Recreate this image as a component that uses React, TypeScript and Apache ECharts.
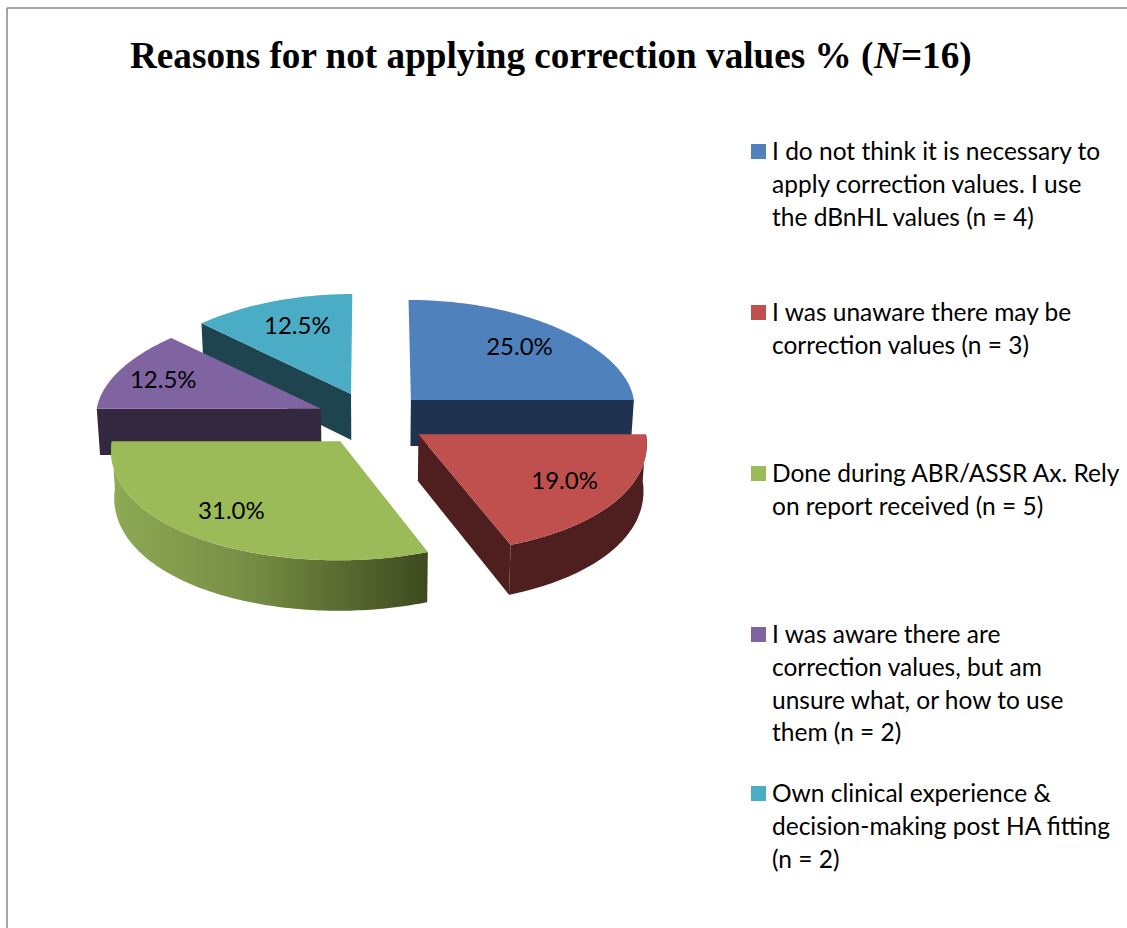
import React, { useEffect, useRef } from "react";
import * as echarts from "echarts";

const titleLead = "Reasons for not applying correction values % (";
const titleItalic = "N";
const titleTail = "=16)";
const categories = [
  "I do not think it is necessary to\napply correction values. I use\nthe dBnHL values (n = 4)",
  "I was unaware there may be\ncorrection values (n = 3)",
  "Done during ABR/ASSR Ax. Rely\non report received (n = 5)",
  "I was aware there are\ncorrection values, but am\nunsure what, or how to use\nthem (n = 2)",
  "Own clinical experience &\ndecision-making post HA fitting\n(n = 2)",
];
const percentages = [25.0, 19.0, 31.0, 12.5, 12.5];
const legendTops = [151, 312, 473, 634, 793];

const topColors = ["#4F81BD", "#C0504D", "#9BBB59", "#8064A2", "#4BACC6"];
const wallColors = ["#1F3350", "#4E1F1E", "#46551F", "#33283F", "#1E4450"];
const paintOrder = [4, 0, 3, 1, 2];
const labelReach = [0.72, 0.75, 0.806, 0.78, 0.67];

const greenRim = {
  type: "linear", x: 0, y: 0, x2: 1, y2: 0,
  colorStops: [
    { offset: 0, color: "#8EAA54" },
    { offset: 0.45, color: "#768C44" },
    { offset: 1, color: "#3D4A1E" },
  ],
};

const FONT = "Lato, Carlito, Calibri, sans-serif";
const CX = 372, CY = 419, EX = 55, EY = 27;
const RX = 223, RY_BACK = 100, RY_FRONT = 119, DEPTH = 46, P = 0.0006, Y0 = 400, SHRINK = 0.988;
const rad = (d: number) => (d * Math.PI) / 180;

const persp = (x: number, y: number) => [CX + (x - CX) * (1 + P * (y - Y0)), y];
const rimOffset = (deg: number, k = 1, kx = k) => {
  const c = Math.cos(rad(deg));
  return [RX * Math.sin(rad(deg)) * kx, -c * (c > 0 ? RY_BACK : RY_FRONT) * k];
};
const drop = (y: number) => DEPTH * (1 + P * (y - Y0));

function renderSlice(params: any, api: any) {
  const i = params.dataIndex;
  const v = api.value(0);
  const total = percentages.reduce((a, b) => a + b, 0);
  const before = percentages.slice(0, i).reduce((a, b) => a + b, 0);
  const a0 = (before / total) * 360;
  const a1 = a0 + (v / total) * 360;
  const mid = (a0 + a1) / 2;
  const ax = CX + EX * Math.sin(rad(mid));
  const ay = CY - EY * Math.cos(rad(mid));

  const top = (deg: number) => {
    const o = rimOffset(deg);
    return [ax + o[0], ay + o[1]];
  };
  const up = (p: number[]) => persp(p[0], p[1]);
  const down = (p: number[]) => {
    const q = persp(p[0], p[1]);
    return [CX + (q[0] - CX) * SHRINK, q[1] + drop(q[1])];
  };
  const apex = [ax, ay];

  const arc: number[][] = [];
  for (let d = a0; d < a1; d += 1) arc.push(top(d));
  arc.push(top(a1));

  const z2 = paintOrder.indexOf(i) * 10;
  const children: any[] = [];
  const wall = (from: number[], to: number[]) =>
    children.push({
      type: "polygon", z2,
      shape: { points: [up(from), up(to), down(to), down(from)] },
      style: { fill: wallColors[i] },
    });

  if (a1 > 0 && a1 <= 180) wall(apex, top(a1));
  if (a0 >= 180 && a0 < 360) wall(apex, top(a0));

  const r0 = Math.max(a0, 90), r1 = Math.min(a1, 270);
  if (r1 > r0) {
    const rim: number[][] = [];
    for (let d = r0; d < r1; d += 1) rim.push(top(d));
    rim.push(top(r1));
    children.push({
      type: "polygon", z2,
      shape: { points: [...rim.map(up), ...rim.slice().reverse().map(down)] },
      style: { fill: i === 2 ? greenRim : wallColors[i] },
    });
  }

  children.push({
    type: "polygon", z2: z2 + 1,
    shape: { points: [up(apex), ...arc.map(up)] },
    style: { fill: topColors[i] },
  });

  const lo = rimOffset(mid, 0.72, labelReach[i]);
  const lp = persp(ax + lo[0], ay + lo[1] - 3);
  children.push({
    type: "text", z2: 100,
    style: {
      text: v.toFixed(1) + "%", x: lp[0], y: lp[1],
      align: "center", verticalAlign: "middle",
      fontFamily: FONT, fontSize: 24, fill: "#000",
    },
  });
  return { type: "group", children };
}

const legendGraphics = categories.flatMap((name, i) => [
  {
    type: "rect", left: 751, top: legendTops[i] - 7, z: 5,
    shape: { width: 15, height: 15 }, style: { fill: topColors[i] },
  },
  {
    type: "text", left: 772, top: legendTops[i] - 17, z: 5,
    style: { text: name, fontFamily: FONT, fontSize: 24.5, lineHeight: 32.8, fill: "#000" },
  },
]);

export default function App() {
  const ref = useRef<HTMLDivElement>(null);
  useEffect(() => {
    document.body.style.margin = "0";
    document.body.style.overflow = "hidden";
    const chart = echarts.init(ref.current!, undefined, { renderer: "svg" });
    chart.setOption({
      animation: false,
      backgroundColor: "#fff",
      title: {
        left: 125, top: 32,
        text: `{b|${titleLead}}{i|${titleItalic}}{b|${titleTail}}`,
        textStyle: {
          rich: {
            b: { fontFamily: "Liberation Serif", fontWeight: "bold", fontSize: 37.2, color: "#000" },
            i: { fontFamily: "Liberation Serif", fontWeight: "bold", fontStyle: "italic", fontSize: 37.2, color: "#000" },
          },
        },
      },
      tooltip: { show: false },
      series: [
        {
          type: "custom",
          coordinateSystem: "none",
          silent: true,
          renderItem: renderSlice,
          data: percentages.map((v, i) => ({ name: categories[i], value: [v] })),
        },
      ],
      graphic: [
        { type: "line", shape: { x1: 7, y1: 8, x2: 1127, y2: 8 }, style: { stroke: "#888", lineWidth: 1.5 } },
        { type: "line", shape: { x1: 7, y1: 8, x2: 7, y2: 928 }, style: { stroke: "#888", lineWidth: 1.5 } },
        ...legendGraphics,
      ],
    });
    return () => chart.dispose();
  }, []);
  return <div ref={ref} style={{ position: "absolute", left: 0, top: 0, width: 1127, height: 928 }} />;
}
